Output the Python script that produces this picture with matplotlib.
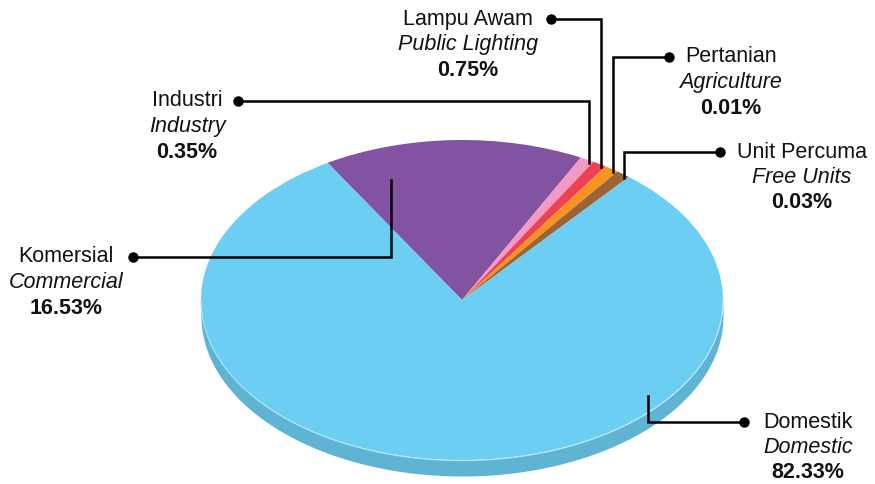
import numpy as np
import matplotlib
matplotlib.use("Agg")
import matplotlib.pyplot as plt

plt.rcParams['font.family'] = ['Liberation Sans', 'DejaVu Sans']

# data, in pie order (clockwise from the top-left)
names_ms = ['Komersial', 'Industri', 'Lampu Awam', 'Pertanian', 'Unit Percuma', 'Domestik']
names_en = ['Commercial', 'Industry', 'Public Lighting', 'Agriculture', 'Free Units', 'Domestic']
shares = [16.53, 0.35, 0.75, 0.01, 0.03, 82.33]
colors = ['#8153A1', '#F29AC5', '#EE4050', '#F7931E', '#9B6434', '#6DCEF4']
side_color = '#5FB4D4'

# tiny slices get a minimum visible width, like the original
disp = np.maximum(shares, 0.9)

W, H = 875, 484
cx, cy, rx, ry, depth = 462, 300, 261, 160, 16

fig = plt.figure(figsize=(W / 100, H / 100), dpi=100)
fig.patch.set_facecolor('white')

# pie axes: units scaled so the unit circle becomes the flattened ellipse
ax = fig.add_axes([0, 0, 1, 1])
wedges, _ = ax.pie(disp, colors=colors, startangle=121, counterclock=False,
                   wedgeprops=dict(linewidth=0), radius=1)
for w in wedges:
    w.set_zorder(3)
ax.set_aspect('auto')
ax.set_xlim(-cx / rx, (W - cx) / rx)
ax.set_ylim((cy - H) / ry, cy / ry)
ax.axis('off')

# front side of the disc
t = np.linspace(np.pi, 2 * np.pi, 400)
d = depth / ry
ax.fill_between(np.cos(t), np.sin(t), np.sin(t) - d, color=side_color, lw=0, zorder=1)
ax.plot(np.cos(t), np.sin(t) - 0.004, color='#B5E6F8', lw=0.7, zorder=4)

# overlay in pixel coordinates for the callouts
ov = fig.add_axes([0, 0, 1, 1], facecolor='none')
ov.set_xlim(0, W)
ov.set_ylim(H, 0)
ov.axis('off')

# callout layout: text centre x, dot x, dot y
text_x = [66, 187, 468, 731, 802, 808]
dot_x = [133, 238, 551, 669, 720, 744]
dot_y = [257, 101, 19, 57, 152, 422]
# anchor on the slice: (angle, radius); None -> near the rim of the slice
anchors = [(110, 0.8), None, None, None, None, (-40, 0.93)]

for i, w in enumerate(wedges):
    if anchors[i] is None:
        ang, r = w.theta1 + 0.2 * (w.theta2 - w.theta1), 0.985
    else:
        ang, r = anchors[i]
    axp = cx + rx * r * np.cos(np.radians(ang))
    ayp = cy - ry * r * np.sin(np.radians(ang))
    ov.plot([dot_x[i], axp, axp], [dot_y[i], dot_y[i], ayp], color='black',
            lw=1.8, solid_joinstyle='miter', zorder=5)
    ov.plot(dot_x[i], dot_y[i], 'o', color='black', ms=6.5, zorder=6)
    ov.text(text_x[i], dot_y[i], names_ms[i], ha='center', va='center',
            fontsize=15.5, color='#111111')
    ov.text(text_x[i], dot_y[i] + 25.5, names_en[i], ha='center', va='center',
            fontsize=15.5, style='italic', color='#111111')
    ov.text(text_x[i], dot_y[i] + 51, f'{shares[i]:.2f}%', ha='center', va='center',
            fontsize=15.5, fontweight='bold', color='#111111')

fig.savefig('out.png', dpi=100, facecolor='white')
